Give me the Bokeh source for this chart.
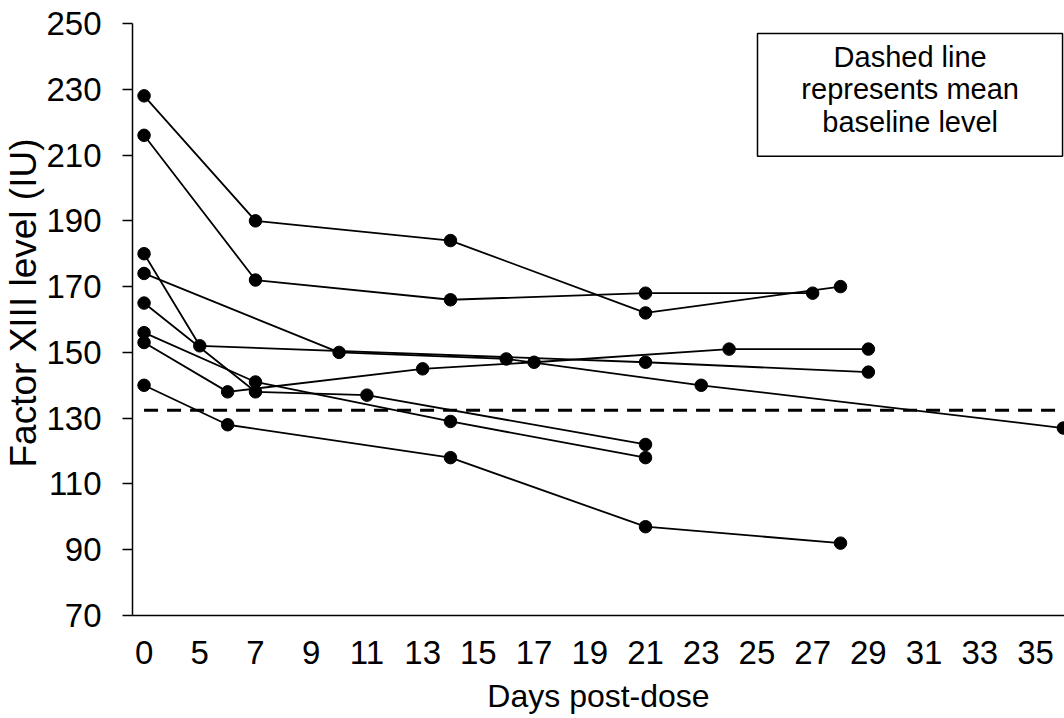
from bokeh.plotting import figure
from bokeh.models import Range1d, FixedTicker, Title
from bokeh.embed import file_html
from bokeh.resources import INLINE
from bokeh.core.properties import value

# Factor XIII level (IU) per patient, by day post-dose
days_p1 = [0, 7, 14, 21, 28]
level_p1 = [228, 190, 184, 162, 170]
days_p2 = [0, 7, 14, 21, 27]
level_p2 = [216, 172, 166, 168, 168]
days_p3 = [0, 5, 21, 29]
level_p3 = [180, 152, 147, 144]
days_p4 = [0, 10, 16, 23, 36]
level_p4 = [174, 150, 148, 140, 127]
days_p5 = [0, 7, 11, 21]
level_p5 = [165, 138, 137, 122]
days_p6 = [0, 7, 14, 21]
level_p6 = [156, 141, 129, 118]
days_p7 = [0, 6, 13, 17, 24, 29]
level_p7 = [153, 138, 145, 147, 151, 151]
days_p8 = [0, 6, 14, 21, 28]
level_p8 = [140, 128, 118, 97, 92]

mean_baseline = 132.4

x_tick_values = [3, 5, 7, 9, 11, 13, 15, 17, 19, 21, 23, 25, 27, 29, 31, 33, 35]
x_tick_labels = ["0", "5", "7", "9", "11", "13", "15", "17", "19", "21",
                 "23", "25", "27", "29", "31", "33", "35"]
y_tick_values = [70, 90, 110, 130, 150, 170, 190, 210, 230, 250]

note_lines = ["Dashed line", "represents mean", "baseline level"]

FONT = "Liberation Sans"

# the pre-dose (day 0) visit sits on the first tick of the day axis
BASELINE_POS = x_tick_values[0]
X_MIN, X_MAX = 2.585, 36.04


def axis_pos(day):
    return BASELINE_POS if day == 0 else day


patients = [
    (days_p1, level_p1), (days_p2, level_p2), (days_p3, level_p3),
    (days_p4, level_p4), (days_p5, level_p5), (days_p6, level_p6),
    (days_p7, level_p7), (days_p8, level_p8),
]

p = figure(width=1064, height=718, output_backend="svg", toolbar_location=None,
           x_range=Range1d(X_MIN, X_MAX), y_range=Range1d(70, 250),
           min_border_left=132, min_border_right=0, min_border_top=23,
           min_border_bottom=103)
p.outline_line_color = None
p.xgrid.visible = False
p.ygrid.visible = False
p.background_fill_color = "white"
p.border_fill_color = "white"

# mean baseline reference line
p.line([BASELINE_POS, X_MAX], [mean_baseline, mean_baseline], line_color="black",
       line_width=3, line_dash="14 9")

for days, levels in patients:
    xs = [axis_pos(d) for d in days]
    p.line(xs, levels, line_color="black", line_width=1.8)
    p.scatter(xs, levels, size=12.5, marker="circle", fill_color="black",
              line_color="black")

# note box in the upper right
p.quad(left=[25.02], right=[35.97], top=[246.96], bottom=[209.6],
       fill_color="white", line_color="black", line_width=1.5)
p.text(x=[30.5, 30.5, 30.5], y=[239.8, 230.0, 220.2], text=note_lines,
       text_align="center", text_baseline="alphabetic",
       text_font=value(FONT), text_font_size="29px", text_color="black")

# axes
p.xaxis.ticker = FixedTicker(ticks=x_tick_values)
p.xaxis.major_label_overrides = {v: s for v, s in zip(x_tick_values, x_tick_labels)}
p.xaxis.major_tick_out = 0
p.xaxis.major_tick_in = 0
p.xaxis.minor_tick_out = 0
p.xaxis.minor_tick_in = 0
p.xaxis.major_label_standoff = 25
p.xaxis.axis_label = "Days post-dose"
p.xaxis.axis_label_standoff = 11

p.yaxis.ticker = FixedTicker(ticks=y_tick_values)
p.yaxis.major_tick_out = 10
p.yaxis.major_tick_in = 0
p.yaxis.minor_tick_out = 0
p.yaxis.minor_tick_in = 0
p.yaxis.major_label_standoff = 21

for ax in (p.xaxis[0], p.yaxis[0]):
    ax.axis_line_color = "black"
    ax.axis_line_width = 1.5
    ax.major_tick_line_color = "black"
    ax.major_tick_line_width = 1.5
    ax.major_label_text_font = FONT
    ax.major_label_text_font_size = "33px"
    ax.major_label_text_color = "black"
    ax.axis_label_text_font = FONT
    ax.axis_label_text_font_size = "32px"
    ax.axis_label_text_font_style = "normal"
    ax.axis_label_text_color = "black"

# vertical axis title, starting a little above the lower end of the value axis
p.add_layout(Title(text="Factor XIII level (IU)", align="left", offset=148,
                   standoff=0, text_font=FONT, text_font_size="37px",
                   text_font_style="normal", text_color="black"), "left")

open("out.html", "w").write(file_html(p, INLINE))
